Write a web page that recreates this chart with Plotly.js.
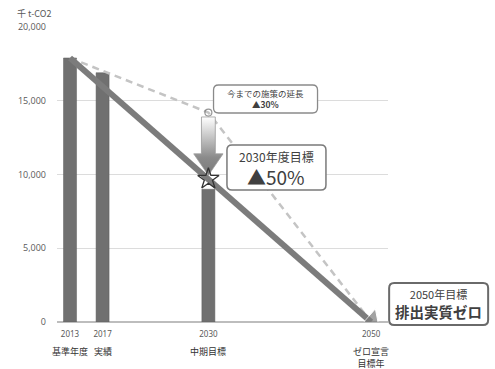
<!DOCTYPE html>
<html>
<head>
<meta charset="utf-8">
<script src="https://cdn.plot.ly/plotly-3.0.1.min.js"></script>
<style>html,body{margin:0;padding:0;background:#fff;}#chart{width:495px;height:369px;}</style>
</head>
<body>
<div id="chart"></div>
<script>
// ---- data ----
const barYears = [2013, 2017, 2030];
const barValues = [17900, 16900, 9000];
const targetYears = [2013, 2050];
const targetValues = [17900, 0];
const trendYears = [2013, 2030, 2050];
const trendValues = [17900, 14200, 0];
const starYear = 2030;
const starValue = 9700;
const tickYears = [2013, 2017, 2030, 2050];
const tickLabels = ['2013', '2017', '2030', '2050'];
const subLabels = ['基準年度', '実績', '中期目標', 'ゼロ宣言<br>目標年'];
const unitLabel = '千 t-CO2';

const JP = '"Noto Sans CJK JP", "Noto Sans", sans-serif';
const txt = '#404040';

// block arrow (derived from circle point and star)
const ac = trendYears[1];
const aTop = trendValues[1] - 300;
const aTip = starValue + 250;
const aBase = aTip + 1450;
const hw = 0.85, hh = 1.8;
const arrowX = [ac-hw, ac+hw, ac+hw, ac+hh, ac, ac-hh, ac-hw, ac-hw];
const arrowY = [aTop, aTop, aBase, aBase, aTip, aBase, aBase, aTop];

const traces = [
  {type:'bar', x:barYears, y:barValues, width:1.6,
   marker:{color:'#707070', line:{color:'#5e5e5e', width:0.5}}, hoverinfo:'skip'},
  {type:'scatter', mode:'lines+markers', x:trendYears, y:trendValues,
   line:{color:'#c4c4c4', width:2.5, dash:'7px,5px'},
   marker:{size:[0,7,0], symbol:'circle-open', color:'#6a6a6a', line:{width:1.2}}, hoverinfo:'skip'},
  {type:'scatter', mode:'lines+markers', x:targetYears, y:targetValues,
   line:{color:'#7c7c7c', width:6},
   marker:{size:[0,22], symbol:'triangle-up', angleref:'previous', color:'#7c7c7c'}, hoverinfo:'skip'},
  {type:'scatter', mode:'lines', x:arrowX, y:arrowY, fill:'toself',
   fillgradient:{type:'vertical', colorscale:[[0,'#7a7a7a'],[0.3,'#8a8a8a'],[1,'#ffffff']]},
   line:{color:'#9a9a9a', width:0.8}, hoverinfo:'skip'},
  {type:'scatter', mode:'markers', x:[starYear], y:[starValue],
   marker:{symbol:'star-open', size:16, color:'#333333', line:{width:1.3}}, hoverinfo:'skip'}
];

function rr(w,h,r){
  const x0=-w/2,x1=w/2,y0=-h/2,y1=h/2;
  return `M${x0+r},${y0} L${x1-r},${y0} Q${x1},${y0} ${x1},${y0+r} L${x1},${y1-r} Q${x1},${y1} ${x1-r},${y1} L${x0+r},${y1} Q${x0},${y1} ${x0},${y1-r} L${x0},${y0+r} Q${x0},${y0} ${x0+r},${y0} Z`;
}
function box(xa, ya, w, h, lw, col){
  return {type:'path', xref:'paper', yref:'paper', xsizemode:'pixel', ysizemode:'pixel',
    xanchor:xa, yanchor:ya, path:rr(w,h,5), fillcolor:'#ffffff',
    line:{color:col, width:lw}, layer:'above'};
}

const annotations = [
  {xref:'paper', yref:'paper', x:-0.127, y:1.047, xanchor:'left', yanchor:'middle', showarrow:false,
   text:unitLabel, font:{family:JP, size:9, color:'#595959'}},
  {xref:'paper', yref:'paper', x:0.63, y:0.756, xanchor:'center', yanchor:'middle', showarrow:false,
   text:'今までの施策の延長<br><b>▲30%</b>', font:{family:JP, size:8.5, color:txt}},
  {xref:'paper', yref:'paper', x:0.663, y:0.561, xanchor:'center', yanchor:'middle', showarrow:false,
   text:'2030年度目標', font:{family:JP, size:12, color:txt}},
  {xref:'paper', yref:'paper', x:0.663, y:0.492, xanchor:'center', yanchor:'middle', showarrow:false,
   text:'▲50%', font:{family:JP, size:19, color:txt}},
  {xref:'paper', yref:'paper', x:1.153, y:0.061, xanchor:'center', yanchor:'middle', showarrow:false,
   text:'<span style="font-size:11px">2050年目標</span><br><b>排出実質ゼロ</b>',
   font:{family:JP, size:14.5, color:txt}}
];
tickYears.forEach((yr,i)=>{
  annotations.push({xref:'x', yref:'paper', x:yr, y:-0.072, xanchor:'center', yanchor:'top',
    showarrow:false, text:subLabels[i], font:{family:JP, size:9, color:'#333'}});
});

const layout = {
  width:495, height:369,
  margin:{l:57, r:107, t:27, b:47},
  paper_bgcolor:'#fff', plot_bgcolor:'#fff',
  showlegend:false,
  xaxis:{type:'linear', range:[2011.4, 2052.07], tickvals:tickYears, ticktext:tickLabels,
    showgrid:false, zeroline:false, showline:false, ticks:'',
    tickfont:{family:'"Noto Sans", sans-serif', size:8, color:'#595959'}, ticklabelstandoff:6},
  yaxis:{range:[0,20000], tickvals:[0,5000,10000,15000,20000], tickformat:',',
    showgrid:true, gridcolor:'#dcdcdc', gridwidth:1, zeroline:true, zerolinecolor:'#bdbdbd', zerolinewidth:1.5,
    showline:false, ticks:'', ticklabelstandoff:10,
    tickfont:{family:'"Open Sans", sans-serif', size:9, color:'#595959'}},
  shapes:[
    box(0.63, 0.756, 104, 28, 1.3, '#8a8a8a'),
    box(0.663, 0.524, 99, 45, 1.5, '#7a7a7a'),
    box(1.153, 0.061, 99, 42, 2, '#6a6a6a')
  ],
  annotations:annotations
};

Plotly.newPlot('chart', traces, layout, {staticPlot:true, displayModeBar:false});
</script>
</body>
</html>
